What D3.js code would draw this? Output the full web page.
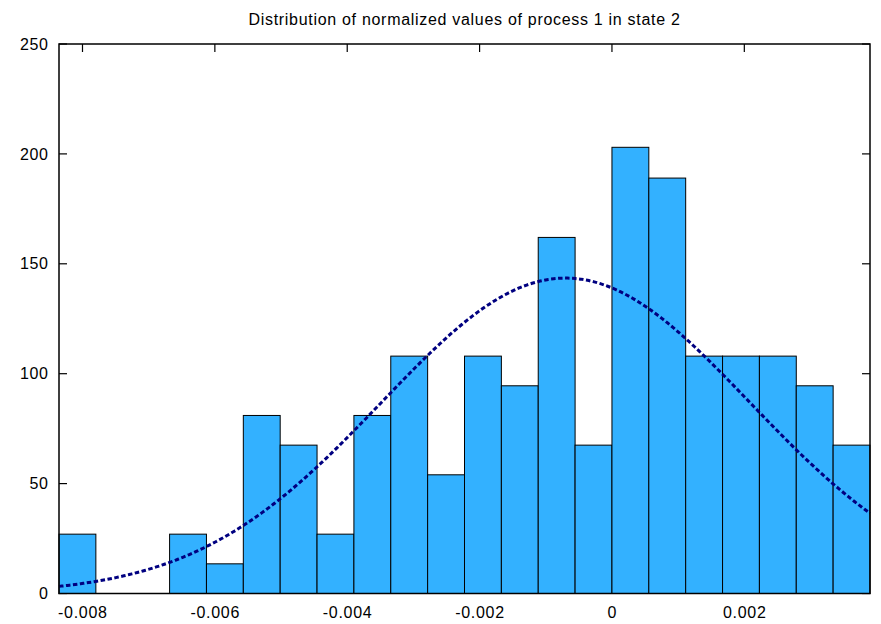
<!DOCTYPE html>
<html>
<head>
<meta charset="utf-8">
<script src="https://cdn.jsdelivr.net/npm/d3@7"></script>
<style>
  body { margin: 0; background: #fff; }
  text { font-family: "Liberation Sans", Arial, sans-serif; font-size: 16px; letter-spacing: 0.7px; }
</style>
</head>
<body>
<div id="chart"></div>
<script>
// histogram bins: first edge index and bin width (data units)
var binWidth = 0.000557
var firstEdge = -15
// bar heights (density), one per bin, read left to right
var heights = [27, 0, 0, 27, 13.5, 81, 67.5, 27, 81, 108, 54, 108, 94.5, 162, 67.5, 203, 189, 108, 108, 108, 94.5, 67.5]
// fitted normal curve parameters
var mu = -0.0007
var sigma = 0.00278
// tick values
var xTicks = [-0.008, -0.006, -0.004, -0.002, 0, 0.002]
var yTicks = [0, 50, 100, 150, 200, 250]
var title = "Distribution of normalized values of process 1 in state 2"

var width = 881,
    height = 624,
    margin = {top: 44, right: 11, bottom: 30.5, left: 59}

var svg = d3.select("#chart")
  .append("svg")
    .attr("width", width)
    .attr("height", height)

var bins = heights.map(function(h, i) {
  return {x0: (firstEdge + i) * binWidth, x1: (firstEdge + i + 1) * binWidth, h: h}
})

var x = d3.scaleLinear()
  .domain([bins[0].x0, bins[bins.length - 1].x1])
  .range([margin.left, width - margin.right])

var y = d3.scaleLinear()
  .domain([0, 250])
  .range([height - margin.bottom, margin.top])

var tick = 8
var plotTop = y(250), plotBottom = y(0), plotLeft = x.range()[0], plotRight = x.range()[1]

// inward ticks on all four sides (bars are drawn over them)
var g = svg.append("g").attr("stroke", "#000").attr("stroke-width", 1.2)
xTicks.forEach(function(t) {
  g.append("line").attr("x1", x(t)).attr("x2", x(t)).attr("y1", plotBottom).attr("y2", plotBottom - tick)
  g.append("line").attr("x1", x(t)).attr("x2", x(t)).attr("y1", plotTop).attr("y2", plotTop + tick)
})
yTicks.forEach(function(t) {
  g.append("line").attr("x1", plotLeft).attr("x2", plotLeft + tick).attr("y1", y(t)).attr("y2", y(t))
  g.append("line").attr("x1", plotRight).attr("x2", plotRight - tick).attr("y1", y(t)).attr("y2", y(t))
})

// bars
svg.append("g")
  .selectAll("rect")
  .data(bins.filter(function(d) { return d.h > 0 }))
  .enter()
  .append("rect")
    .attr("x", function(d) { return x(d.x0) })
    .attr("width", function(d) { return x(d.x1) - x(d.x0) })
    .attr("y", function(d) { return y(d.h) })
    .attr("height", function(d) { return y(0) - y(d.h) })
    .attr("fill", "#33b1ff")
    .attr("stroke", "#000")
    .attr("stroke-width", 1)

// normal pdf
var pdf = function(v) {
  return Math.exp(-0.5 * Math.pow((v - mu) / sigma, 2)) / (sigma * Math.sqrt(2 * Math.PI))
}
var xs = d3.range(0, 301).map(function(i) {
  return x.domain()[0] + (x.domain()[1] - x.domain()[0]) * i / 300
})
svg.append("path")
  .datum(xs)
  .attr("d", d3.line()
    .x(function(d) { return x(d) })
    .y(function(d) { return y(pdf(d)) }))
  .attr("fill", "none")
  .attr("stroke", "#000080")
  .attr("stroke-width", 3)
  .attr("stroke-dasharray", "4.5,2.5")

// border
svg.append("rect")
  .attr("x", plotLeft).attr("y", plotTop)
  .attr("width", plotRight - plotLeft).attr("height", plotBottom - plotTop)
  .attr("fill", "none")
  .attr("stroke", "#000")
  .attr("stroke-width", 1.5)

// tick labels
svg.append("g")
  .selectAll("text")
  .data(xTicks)
  .enter()
  .append("text")
    .attr("x", function(d) { return x(d) + 0.4 })
    .attr("y", 618)
    .attr("text-anchor", "middle")
    .text(function(d) { return d === 0 ? "0" : d3.format(".3f")(d).replace("−", "-") })

svg.append("g")
  .selectAll("text")
  .data(yTicks)
  .enter()
  .append("text")
    .attr("x", 48.7)
    .attr("y", function(d) { return y(d) })
    .attr("dy", "0.35em")
    .attr("text-anchor", "end")
    .text(function(d) { return d })

svg.append("text")
  .attr("x", (plotLeft + plotRight) / 2)
  .attr("y", 25)
  .attr("text-anchor", "middle")
  .text(title)
</script>
</body>
</html>
